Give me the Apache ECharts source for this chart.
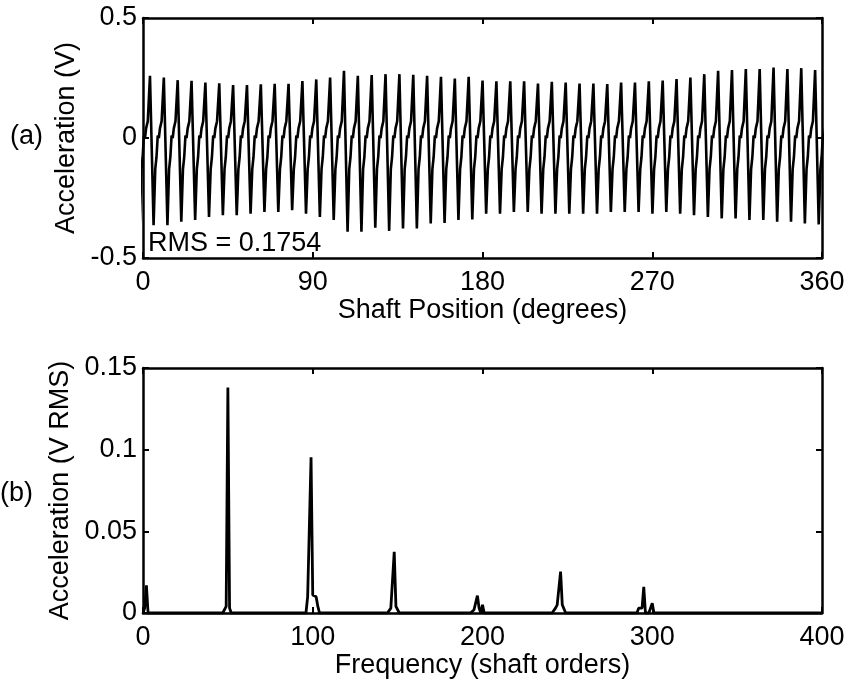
<!DOCTYPE html>
<html>
<head>
<meta charset="utf-8">
<script src="https://cdn.jsdelivr.net/npm/echarts@6/dist/echarts.min.js"></script>
<style>
  html, body { margin: 0; padding: 0; background: #fff; }
  #chart { width: 847px; height: 683px; }
</style>
</head>
<body>
<div id="chart"></div>
<script>
// ---- (a) time signal: one gear-mesh cycle per tooth, 49 teeth per shaft revolution ----
const toothCount = 49;
const firstPeakDeg = 3.7;              // shaft angle of the first tooth peak
const peakValues = [
  0.259, 0.252, 0.241, 0.238, 0.231, 0.228, 0.221, 0.221, 0.224, 0.226,
  0.226, 0.237, 0.244, 0.252, 0.280, 0.259, 0.262, 0.266, 0.266, 0.263,
  0.259, 0.255, 0.248, 0.255, 0.239, 0.236, 0.236, 0.236, 0.227, 0.234,
  0.231, 0.227, 0.227, 0.225, 0.231, 0.231, 0.236, 0.239, 0.246, 0.252,
  0.266, 0.280, 0.283, 0.287, 0.287, 0.294, 0.287, 0.291, 0.283
];
const troughValues = [
  -0.363, -0.363, -0.349, -0.342, -0.329, -0.322, -0.322, -0.315, -0.308, -0.308,
  -0.301, -0.315, -0.329, -0.342, -0.391, -0.391, -0.374, -0.387, -0.377, -0.377,
  -0.356, -0.354, -0.342, -0.339, -0.315, -0.315, -0.308, -0.308, -0.315, -0.315,
  -0.315, -0.315, -0.315, -0.308, -0.308, -0.308, -0.315, -0.308, -0.315, -0.322,
  -0.329, -0.335, -0.335, -0.342, -0.342, -0.349, -0.349, -0.356, -0.360
];
// position of the trough and of the shelf points within one tooth cycle (fraction of a cycle after the peak)
const troughPhase = 0.26;
const shelfPhases = [0.38, 0.47, 0.56, 0.64, 0.72, 0.84];
const shelfValues = [-0.13, -0.08, 0.01, 0.00, 0.04, 0.07];
const rmsText = 'RMS = 0.1754';

// ---- (b) order spectrum ----
const harmonicOrders = [2, 50, 99, 148, 197, 246, 295];
const harmonicAmps   = [0.017, 0.138, 0.0953, 0.0375, 0.0106, 0.0253, 0.016];
const sidebandOrders = [1, 49, 51, 97, 98, 100, 101, 102, 103, 146, 147, 149, 150,
                        195, 196, 198, 200, 243, 244, 245, 247, 248, 292, 293, 294, 300];
const sidebandAmps   = [0.003, 0.004, 0.003, 0.010, 0.011, 0.011, 0.010, 0.010, 0.004, 0.003, 0.004, 0.004, 0.003,
                        0.002, 0.002, 0.003, 0.005, 0.003, 0.005, 0.005, 0.005, 0.004, 0.003, 0.004, 0.003, 0.006];
const maxOrder = 400;

// x tick labels / axis ranges
const shaftTicks = [0, 90, 180, 270, 360];
const orderTicks = [0, 100, 200, 300, 400];

// build the waveform point list, cycle by cycle (one extra cycle each side, clipped by the grid)
const period = 360 / toothCount;
const wave = [];
for (let k = -1; k <= toothCount; k++) {
  const idx = (k + toothCount) % toothCount;
  const p = firstPeakDeg + k * period;
  wave.push([p, peakValues[idx]]);
  wave.push([p + troughPhase * period, troughValues[idx]]);
  for (let j = 0; j < shelfPhases.length; j++) {
    wave.push([p + shelfPhases[j] * period, shelfValues[j]]);
  }
}

// spectrum on a one-order grid
const specY = new Array(maxOrder + 1).fill(0);
sidebandOrders.forEach((o, i) => { specY[o] = sidebandAmps[i]; });
harmonicOrders.forEach((o, i) => { specY[o] = harmonicAmps[i]; });
const spectrum = specY.map((v, i) => [i, v]);

const FONT = 'Liberation Sans, Arial, Helvetica, sans-serif';
const FS = 27;

function frameAxis(pos, gridIndex, min, max, interval, showLabels, extra) {
  return Object.assign({
    type: 'value', position: pos, gridIndex, min, max, interval,
    axisLine: { show: true, onZero: false, lineStyle: { color: '#000', width: 2.5 } },
    axisTick: { show: true, inside: true, length: 6, lineStyle: { color: '#000', width: 2 } },
    axisLabel: { show: showLabels, color: '#000', fontFamily: FONT, fontSize: FS },
    splitLine: { show: false }
  }, extra || {});
}

const titleStyle = { color: '#000', fontFamily: FONT, fontSize: FS };

const chart = echarts.init(document.getElementById('chart'), null, { renderer: 'canvas' });
chart.setOption({
  animation: false,
  backgroundColor: '#fff',
  grid: [
    { left: 143, top: 18, width: 679, height: 240, outerBoundsMode: 'none' },
    { left: 143, top: 368, width: 679, height: 245, outerBoundsMode: 'none' }
  ],
  xAxis: [
    frameAxis('bottom', 0, shaftTicks[0], shaftTicks[shaftTicks.length - 1], 90, true, {
      name: 'Shaft Position (degrees)', nameLocation: 'middle', nameGap: 38,
      nameTextStyle: titleStyle,
      axisLabel: { show: true, color: '#000', fontFamily: FONT, fontSize: FS, margin: 11 }
    }),
    frameAxis('top', 0, 0, 360, 90, false),
    frameAxis('bottom', 1, orderTicks[0], orderTicks[orderTicks.length - 1], 100, true, {
      name: 'Frequency (shaft orders)', nameLocation: 'middle', nameGap: 37,
      nameTextStyle: titleStyle,
      axisLabel: { show: true, color: '#000', fontFamily: FONT, fontSize: FS, margin: 11 }
    }),
    frameAxis('top', 1, 0, 400, 100, false)
  ],
  yAxis: [
    frameAxis('left', 0, -0.5, 0.5, 0.5, true, {
      name: 'Acceleration (V)', nameLocation: 'middle', nameGap: 51,
      nameTextStyle: titleStyle,
      axisLabel: { show: true, color: '#000', fontFamily: FONT, fontSize: FS, margin: 6 }
    }),
    frameAxis('right', 0, -0.5, 0.5, 0.5, false),
    frameAxis('left', 1, 0, 0.15, 0.05, true, {
      name: 'Acceleration (V RMS)', nameLocation: 'middle', nameGap: 54,
      nameTextStyle: titleStyle,
      axisLabel: { show: true, color: '#000', fontFamily: FONT, fontSize: FS, margin: 6 }
    }),
    frameAxis('right', 1, 0, 0.15, 0.05, false)
  ],
  series: [
    {
      type: 'line', xAxisIndex: 0, yAxisIndex: 0, data: wave,
      showSymbol: false, clip: true, sampling: null,
      lineStyle: { color: '#000', width: 2.6 }
    },
    {
      type: 'line', xAxisIndex: 2, yAxisIndex: 2, data: spectrum,
      showSymbol: false, clip: true,
      lineStyle: { color: '#000', width: 2.8 }
    }
  ],
  graphic: [
    { type: 'text', left: 148, top: 230,
      style: { text: rmsText, fill: '#000', font: FS + 'px ' + FONT } },
    { type: 'text', left: 10, top: 123,
      style: { text: '(a)', fill: '#000', font: FS + 'px ' + FONT } },
    { type: 'text', left: 0, top: 480,
      style: { text: '(b)', fill: '#000', font: FS + 'px ' + FONT } }
  ]
});
</script>
</body>
</html>
